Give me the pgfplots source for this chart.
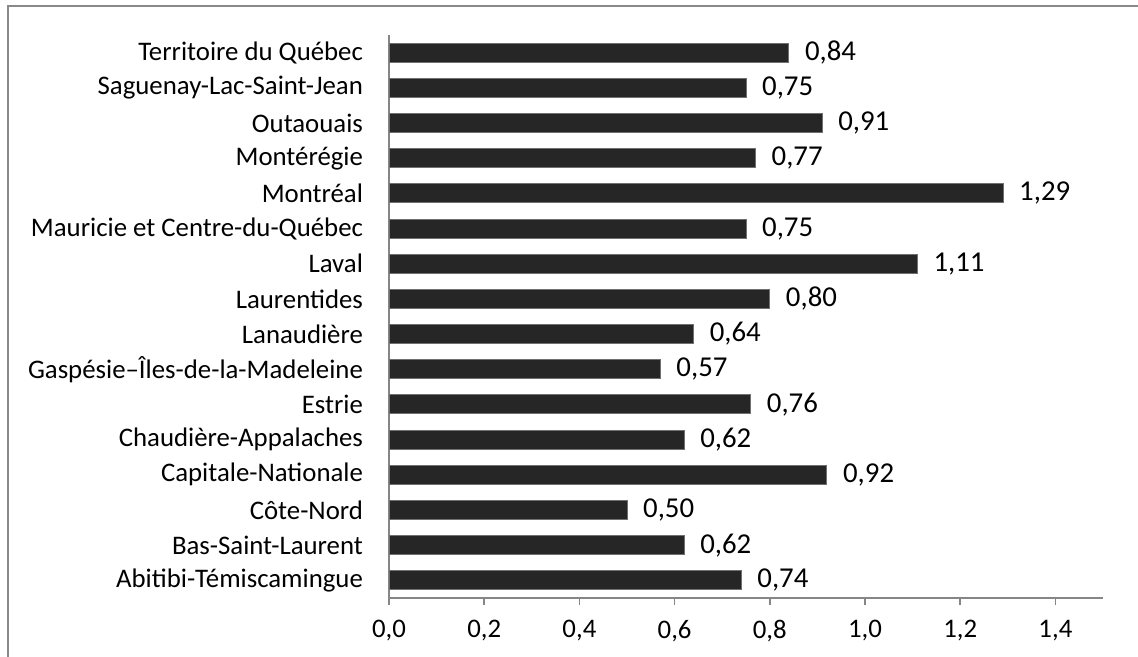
\documentclass[border=0pt]{standalone}
\usepackage{pgfplots}
\pgfplotsset{compat=1.18}
\usepackage{fontspec}
\setmainfont{Carlito}

\definecolor{barfill}{HTML}{262626}
\definecolor{baredge}{HTML}{707070}
\definecolor{axisgray}{HTML}{868686}
\definecolor{framegray}{HTML}{898989}

\begin{document}
\begin{tikzpicture}[x=1pt,y=1pt]
% page size: 1138 x 657 px at 0.5pt per px
\path[use as bounding box] (0,0) rectangle (569,328.5);
\draw[framegray, line width=0.9pt] (4,0) -- (4,325.5) -- (569,325.5);
\begin{axis}[
    at={(194.5pt,29.5pt)}, anchor=south west,
    scale only axis,
    width=357pt, height=281.5pt,
    xbar, bar width=0.54,
    xmin=0, xmax=1.5,
    ymin=-0.5, ymax=15.5,
    xtick={0,0.2,...,1.4},
    ytick={0,...,15},
    yticklabels={Abitibi-Témiscamingue, Bas-Saint-Laurent, Côte-Nord,
        Capitale-Nationale, Chaudière-Appalaches, Estrie,
        Gaspésie–Îles-de-la-Madeleine\ , Lanaudière, Laurentides, Laval,
        Mauricie et Centre-du-Québec, Montréal, Montérégie, Outaouais,
        Saguenay-Lac-Saint-Jean, Territoire du Québec},
    axis x line*=bottom, axis y line*=left,
    axis line style={axisgray, line width=0.75pt},
    x axis line style={-}, y axis line style={-},
    xtick style={axisgray, line width=0.75pt},
    xtick pos=bottom, tick align=outside,
    major tick length=3.5pt,
    ytick style={draw=none},
    every tick label/.append style={font=\fontsize{13.4}{15}\selectfont, text=black},
    xticklabel style={yshift=-4pt},
    yticklabel style={xshift=-6pt},
    /pgf/number format/.cd, assume math mode=true, use comma, fixed, fixed zerofill, precision=1,
    /pgfplots/.cd,
    nodes near coords,
    nodes near coords style={font=\fontsize{14.4}{16}\selectfont, text=black,
        anchor=west, xshift=4.5pt,
        /pgf/number format/.cd, assume math mode=true, use comma, fixed, fixed zerofill, precision=2},
]
\addplot[fill=barfill, draw=baredge, line width=0.5pt] coordinates {
    (0.74,0) (0.62,1) (0.50,2) (0.92,3) (0.62,4) (0.76,5) (0.57,6) (0.64,7)
    (0.80,8) (1.11,9) (0.75,10) (1.29,11) (0.77,12) (0.91,13) (0.75,14) (0.84,15)
};
\end{axis}
\end{tikzpicture}
\end{document}
